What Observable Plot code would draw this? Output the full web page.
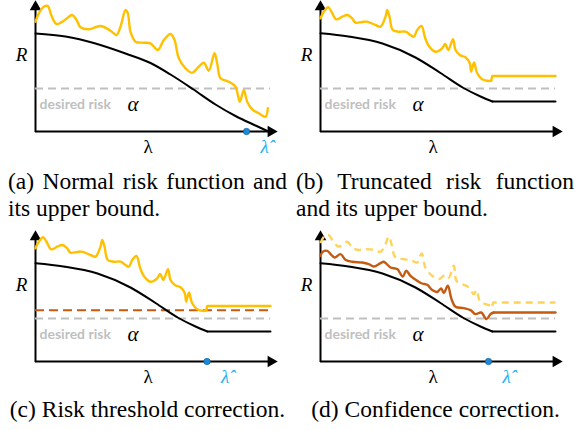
<!DOCTYPE html>
<html><head><meta charset="utf-8">
<style>
html,body{margin:0;padding:0;background:#fff;}
#root{position:relative;width:586px;height:430px;overflow:hidden;background:#fff;}
.panel{position:absolute;}
.panel svg{overflow:visible;}
.cap{position:absolute;font-size:23.5px;line-height:26px;color:#000;white-space:nowrap;}
.just{text-align:justify;text-align-last:justify;}
.center{text-align:center;}
#warm{position:absolute;left:0;top:0;color:#fff;font-size:2px;}
</style></head><body>
<div id="warm"><span style='font-family:"Liberation Serif"'>Normal λ α R</span><span style='font-family:"Liberation Serif";font-style:italic'>R α λ</span><span style='font-family:"Lato";font-weight:700'>desired risk</span></div>
<div id="root"></div>
<script src="https://cdn.jsdelivr.net/npm/d3@7"></script>
<script src="https://cdn.jsdelivr.net/npm/@observablehq/plot@0.6"></script>
<script>
// ---------- data (λ along the axis, R above the axis) ----------
const axisMaxLambda = 242;
const axisMaxR = 131;
const lineEnd = 235;
const alphaLevel = 43;          // desired risk α
const correctedLevel = 51.3;    // corrected threshold (c)
const riskTruncLevel = 30;

// (a) normal risk function
const riskA = [[0,98],[30,95],[60,88],[90,78],[115,68.5],[135,57],[158,42],[180,27],[200,15.5],[220,6],[233,0]];
// (a) upper bound
const boundA = [[0,109.8],[3.3,118.2],[8.3,124.8],[12.3,125.5],[15.7,116.5],[21,107.5],[28.3,110.8],[36.7,116.5],[41,111.5],[45,104.2],[53.3,102.2],[65,105.5],[75,100.8],[81,96.5],[85,104.8],[90,121.5],[92.3,118.2],[95,99.8],[100,89.8],[108.3,88.8],[115,88.2],[122.3,81.5],[128.3,91.5],[135,97.5],[139,91.5],[143.3,73.2],[150,63.2],[156.7,58.8],[163.3,64.8],[168.3,68.8],[173.3,60.8],[179,78.2],[181.7,68.2],[185,53.2],[193.3,49.8],[200,44.8],[204.3,29.8],[208.3,41.5],[211.7,29.8],[216.7,22.2],[223.3,18.2],[230,14.8],[232.3,23.2]];
// truncated risk function (b, c, d)
const riskTrunc = [[0,98.2],[28,95],[62,88],[95,74],[120,58.5],[143,43.5],[160,35],[172,30]];
// truncated upper bound (b, c)
const boundTrunc = [[0,113.2],[3.3,119.8],[7.7,124.2],[11,119.8],[15.7,112.2],[21.7,114.8],[26.7,116.5],[31.7,113.2],[35,108.8],[41.7,109.5],[46.7,109.8],[55,106.5],[60,104.8],[65,114.8],[66.7,121.5],[69,114.8],[72.3,101.5],[78.3,99.8],[85,99.8],[90,96.5],[93.3,94.8],[96.7,101.5],[101,105.5],[104.5,94],[108.3,85.5],[115,79.8],[121.7,83.2],[124.7,87.5],[127.8,81.5],[132.5,92.3],[135,81.5],[139.3,76.5],[145,74.2],[149.3,68.2],[150.7,59.8],[153.5,69],[156.7,58.2],[161.7,52.2],[168.3,50.5],[170.7,50.8]];
const boundTruncLevel = 55.5;
// (d) confidence-corrected bound (solid) and original bound (dashed)
const confD = [[0,105.7],[2.3,109.7],[6.7,110.7],[11,106.4],[14.3,104],[20,107.4],[25,101.7],[31.7,99.7],[41.7,99],[48.3,97.4],[53.3,95],[60,98.4],[63.3,99.7],[70,94],[76.7,92.4],[82.3,85],[85.7,90.7],[90,85.7],[96.7,80.7],[101.5,78],[106.7,76.7],[111.7,71.4],[116.7,69.5],[120.7,73],[123.3,68.5],[127.3,75.7],[131,62.4],[135,54.7],[143.3,53.4],[150,51.4],[155,47.4],[160.7,49],[166,42.4],[170,47.4],[173.3,49]];
const confDLevel = 49;
const boundD = [[0,118.4],[4.3,125.7],[8.3,126.4],[13.3,119],[18.3,115],[26.7,119.7],[31.7,114],[36.7,111.7],[45,112.4],[53.3,111.7],[60,109.7],[65,117.4],[68.3,125],[71,117.4],[75,104],[83.3,102.4],[91.7,100.7],[96.7,99],[101.2,108],[105,93.5],[111.7,85.7],[118.3,82.4],[125,86.7],[128.3,84],[133.3,95.7],[136,80.7],[141.7,77.4],[148.3,74],[153.3,67.4],[156,71.4],[159.3,60.7],[165,57.4],[171.7,55.7]];
const boundDLevel = 59;
// λ̂ positions
const lambdaHatA = 211, lambdaHatC = 171.5, lambdaHatD = 168;

// texts
const labelR = "R", labelLambda = "λ", labelHat = "λ\u0302", labelDesired = "desired risk", labelAlpha = "α";
const captions = {
  a: ["(a) Normal risk function and", "its upper bound."],
  b: ["(b) Truncated risk function", "and its upper bound."],
  c: ["(c) Risk threshold correction."],
  d: ["(d) Confidence correction."]
};

// ---------- helpers ----------
const pts = arr => arr.map(([l, r]) => ({l, r}));
const YELLOW = "#ffc000", ORANGE = "#c55a11", GRAY = "#bfbfbf", CYAN = "#22b1ef", BLUE = "#1c8ad6";
const SERIF = '"Liberation Serif"';
const SANS = '"Lato"';

function axes() {
  return [
    Plot.ruleY([0], {x1: 0, x2: axisMaxLambda - 5, stroke: "#000", strokeWidth: 2}),
    Plot.ruleX([0], {y1: -1, y2: axisMaxR - 5, stroke: "#000", strokeWidth: 2}),
    Plot.dot([{l: axisMaxLambda, r: 0}], {x: "l", y: "r", dx: -6.5, symbol: "triangle", r: 4.3, rotate: 90, fill: "#000", stroke: null}),
    Plot.dot([{l: 0, r: axisMaxR}], {x: "l", y: "r", dy: 6.5, symbol: "triangle", r: 4.3, rotate: 0, fill: "#000", stroke: null}),
    Plot.text([labelR], {x: -14, y: 77, text: d => d, fontFamily: SERIF, fontStyle: "italic", fontSize: 19, fill: "#000"}),
    Plot.text([labelLambda], {x: 112.5, y: -15.5, text: d => d, fontFamily: SERIF, fontSize: 19, fill: "#000"}),
    Plot.ruleY([alphaLevel], {x1: 0, x2: lineEnd, stroke: GRAY, strokeWidth: 2, strokeDasharray: "8,5"}),
    Plot.text([labelDesired], {x: 4, y: alphaLevel - 16.5, text: d => d, textAnchor: "start", fontFamily: SANS, fontWeight: "bold", fontSize: 14, fill: GRAY}),
    Plot.text([labelAlpha], {x: 97.5, y: alphaLevel - 16, text: d => d, fontFamily: SERIF, fontStyle: "italic", fontSize: 21, fill: "#000"})
  ];
}
function hat(lh) {
  return [
    Plot.dot([{l: lh, r: 0}], {x: "l", y: "r", r: 3.2, fill: BLUE, stroke: "#0b5d9c", strokeWidth: 0.6}),
    Plot.text([{l: lh, r: -15.5}], {x: "l", y: "r", dx: 18, text: () => labelHat, fontFamily: SERIF, fontStyle: "italic", fontSize: 19, fill: CYAN})
  ];
}
const lineOpts = (stroke, w, extra = {}) => ({x: "l", y: "r", stroke, strokeWidth: w, strokeLinejoin: "round", strokeLinecap: "round", ...extra});

function makePlot(marks) {
  return Plot.plot({
    width: 292, height: 167, marginLeft: 30, marginRight: 20, marginTop: 6, marginBottom: 30,
    x: {domain: [0, axisMaxLambda], axis: null},
    y: {domain: [0, axisMaxR], axis: null},
    style: {background: "transparent", overflow: "visible"},
    marks
  });
}
function truncRiskMarks() {
  const flat = [riskTrunc[riskTrunc.length - 1], [lineEnd, riskTruncLevel]];
  return [
    Plot.line(pts(riskTrunc), lineOpts("#000", 2, {curve: "monotone-x"})),
    Plot.line(pts(flat), lineOpts("#000", 2))
  ];
}
function truncBoundMarks(data, level, stroke, extra = {}) {
  const last = data[data.length - 1];
  const flat = [last, [last[0] + 1, level], [lineEnd, level]];
  return [
    Plot.line(pts(data), lineOpts(stroke, 2.4, {curve: "catmull-rom", ...extra})),
    Plot.line(pts(flat), lineOpts(stroke, 2.4, extra))
  ];
}

// ---------- panels ----------
const root = document.getElementById("root");
function place(svg, left, top) {
  const div = document.createElement("div");
  div.className = "panel";
  div.style.left = left + "px"; div.style.top = top + "px";
  div.appendChild(svg); root.appendChild(div);
}

// captions first (so their fonts resolve early)
function cap(lines, left, baseline, width, mode) {
  lines.forEach((t, i) => {
    const d = document.createElement("div");
    const justify = mode !== "center" && i < lines.length - 1;
    d.className = "cap" + (mode === "center" ? " center" : (justify ? " just" : ""));
    d.style.cssText += 'font-family:"Liberation Serif";left:' + left + 'px;top:' + (baseline + i * 27 - 21) + 'px;width:' + width + 'px;' + (justify ? 'white-space:normal;' : '');
    d.textContent = t;
    root.appendChild(d);
  });
}
cap(captions.a, 8, 189, 279, "just");
cap(captions.b, 296, 189, 278, "just");
cap(captions.c, 8, 417, 279, "center");
cap(captions.d, 296, 417, 279, "center");

// (a)
place(makePlot([
  ...axes(),
  Plot.line(pts(riskA), lineOpts("#000", 2, {curve: "monotone-x"})),
  Plot.line(pts(boundA), lineOpts(YELLOW, 2.4, {curve: "catmull-rom"})),
  ...hat(lambdaHatA)
]), 5, -6);

// (b)
place(makePlot([
  ...axes(),
  ...truncRiskMarks(),
  ...truncBoundMarks(boundTrunc, boundTruncLevel, YELLOW)
]), 290, -6);

// (c)
place(makePlot([
  ...axes(),
  Plot.ruleY([correctedLevel], {x1: 0, x2: lineEnd, stroke: ORANGE, strokeWidth: 2, strokeDasharray: "9,5"}),
  ...truncRiskMarks(),
  ...truncBoundMarks(boundTrunc, boundTruncLevel, YELLOW),
  ...hat(lambdaHatC)
]), 5, 224);

// (d)
place(makePlot([
  ...axes(),
  ...truncRiskMarks(),
  ...truncBoundMarks(boundD, boundDLevel, "#ffd45a", {strokeDasharray: "7,5", strokeLinecap: "butt"}),
  Plot.line(pts(confD), lineOpts(ORANGE, 2.4, {curve: "catmull-rom"})),
  Plot.line(pts([confD[confD.length - 1], [lineEnd, confDLevel]]), lineOpts(ORANGE, 2.4)),
  ...hat(lambdaHatD)
]), 290, 224);
</script>
</body></html>
